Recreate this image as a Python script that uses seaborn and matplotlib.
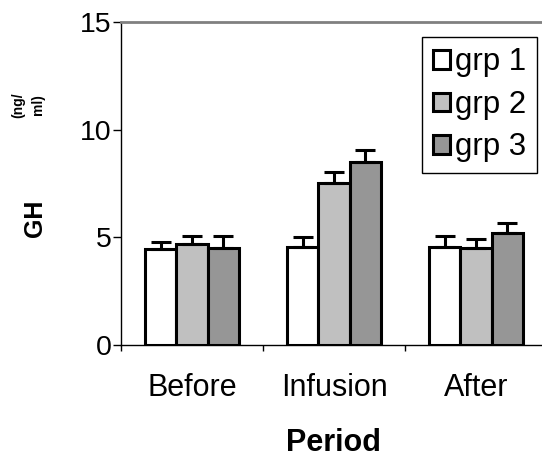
import numpy as np
import pandas as pd
import seaborn as sns
from matplotlib import pyplot as plt

# values
periods = ['Before', 'Infusion', 'After']
groups = ['grp 1', 'grp 2', 'grp 3']
gh_grp1 = [4.47, 4.56, 4.56]
gh_grp2 = [4.70, 7.53, 4.51]
gh_grp3 = [4.51, 8.50, 5.21]
err_grp1 = [0.32, 0.46, 0.51]
err_grp2 = [0.37, 0.52, 0.42]
err_grp3 = [0.56, 0.57, 0.46]
y_ticks = [0, 5, 10, 15]
bar_colors = ['white', '#c0c0c0', '#969696']

sns.set_style('white')
plt.rcParams['font.family'] = ['Liberation Sans', 'DejaVu Sans']
plt.rcParams['text.color'] = 'black'
plt.rcParams['axes.labelcolor'] = 'black'
plt.rcParams['xtick.color'] = 'black'
plt.rcParams['ytick.color'] = 'black'

frame = pd.DataFrame({
    'Period': periods * 3,
    'grp': np.repeat(groups, 3),
    'GH': gh_grp1 + gh_grp2 + gh_grp3,
})

fig = plt.figure(figsize=(5.42, 4.57), dpi=100)
ax = fig.add_axes([121 / 542, 112 / 457, 426 / 542, 323 / 457])

sns.barplot(data=frame, x='Period', y='GH', hue='grp',
            palette=bar_colors, saturation=1, width=0.66,
            edgecolor='black', linewidth=2.2, errorbar=None, ax=ax)

# upper-only error bars on top of each bar
for cont, err in zip(ax.containers, [err_grp1, err_grp2, err_grp3]):
    xs = [b.get_x() + b.get_width() / 2 for b in cont]
    ys = [b.get_height() for b in cont]
    ax.errorbar(xs, ys, yerr=[np.zeros(len(err)), err], fmt='none',
                ecolor='black', elinewidth=2.2, capsize=7, capthick=2.2)

ax.set_xlim(-0.5, 2.5)
ax.set_ylim(0, 15)
ax.set_yticks(y_ticks)
ax.tick_params(axis='y', direction='out', length=6, width=1, pad=1,
               labelsize=20.5, left=True)

ax.set_xticks([-0.5, 0.5, 1.5])
ax.set_xticklabels([])
ax.set_xticks([0, 1, 2], minor=True)
ax.set_xticklabels(periods, minor=True)
ax.tick_params(axis='x', which='major', direction='out', length=4, width=1,
               bottom=True)
ax.tick_params(axis='x', which='minor', length=0, pad=20, labelsize=22)

ax.grid(False)
ax.spines['top'].set_color('#808080')
ax.spines['top'].set_linewidth(2)
ax.spines['right'].set_visible(False)
ax.spines['left'].set_color('black')
ax.spines['left'].set_linewidth(1)
ax.spines['bottom'].set_color('black')
ax.spines['bottom'].set_linewidth(1)

ax.set_xlabel('Period', fontsize=22, fontweight='bold', labelpad=18)
ax.set_ylabel('')
fig.text(35 / 542, 1 - 218 / 457, 'GH', rotation=90, fontsize=18,
         fontweight='bold', ha='center', va='center')
fig.text(28 / 542, 1 - 105 / 457, '(ng/\nml)', rotation=90, fontsize=10,
         fontweight='bold', ha='center', va='center', linespacing=1.5)

sns.move_legend(ax, 'upper right', bbox_to_anchor=(0.977, 0.955), title=None,
                frameon=True, fancybox=False, edgecolor='black', framealpha=1,
                fontsize=22.5, handlelength=0.55, handleheight=0.55,
                handletextpad=0.15, labelspacing=0.4, borderpad=0.35,
                borderaxespad=0)
ax.get_legend().get_frame().set_linewidth(1)

fig.savefig('out.png', dpi=100)
